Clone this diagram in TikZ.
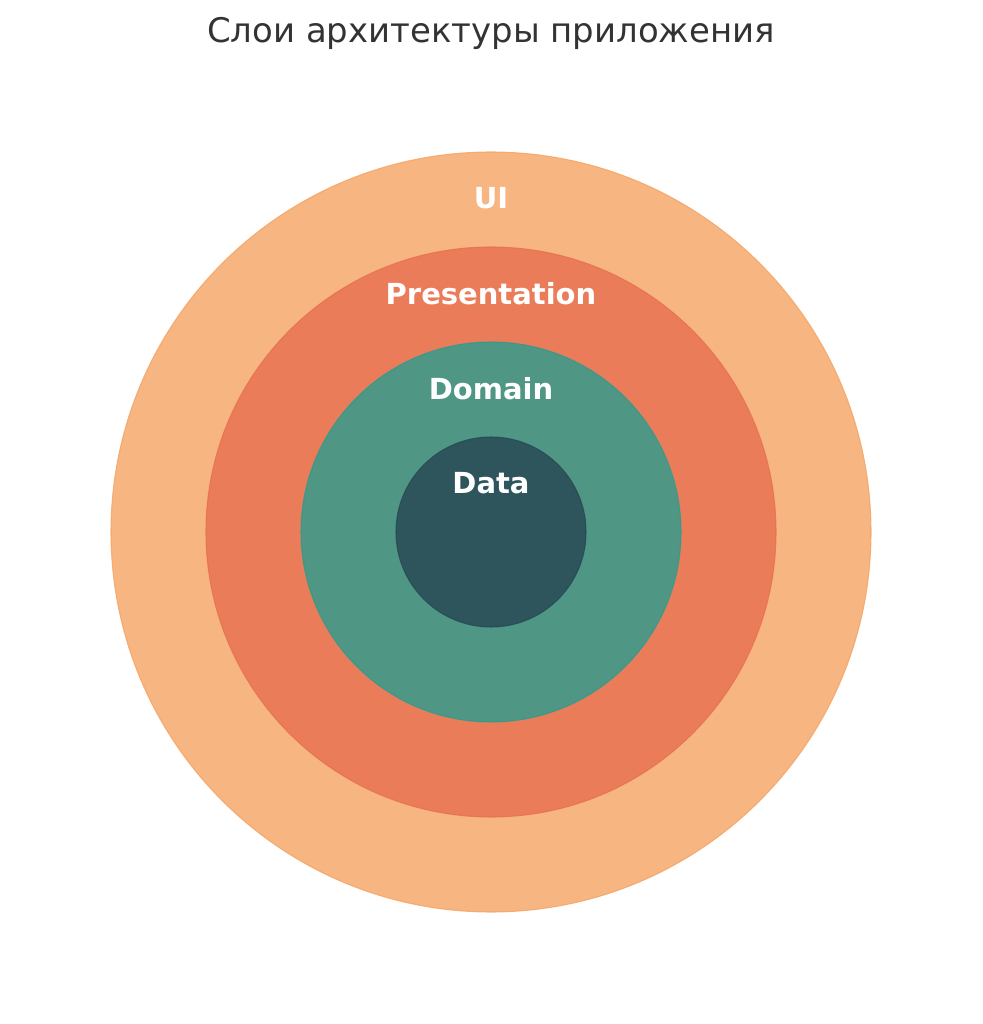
\documentclass[tikz,border=0pt]{standalone}
\usepackage{fontspec}
\setmainfont{DejaVu Sans}
\usepackage{tikz}
\usetikzlibrary{positioning}

\definecolor{uicol}{HTML}{F4A261}
\definecolor{prescol}{HTML}{E76F51}
\definecolor{domcol}{HTML}{2A9D8F}
\definecolor{datacol}{HTML}{264653}
\definecolor{titlecol}{HTML}{333333}

\tikzset{
    layer/.style={circle, inner sep=0pt, outer sep=0pt, opacity=0.8, line width=0.6pt},
    layername/.style={text=white, font=\fontsize{16.5}{18}\selectfont\bfseries, inner sep=0pt}
}

\begin{document}
\begin{tikzpicture}
    \useasboundingbox (0,0) rectangle (19.66,20.48);

    % Centre of the rings
    \coordinate (C) at (9.82,9.84);

    % Draw the layers from the outside in
    \node[layer, fill=uicol, draw=uicol, minimum size=15.2cm] (UI) at (C) {};
    \node[layer, fill=prescol, draw=prescol, minimum size=11.4cm] (Pres) at (C) {};
    \node[layer, fill=domcol, draw=domcol, minimum size=7.6cm] (Dom) at (C) {};
    \node[layer, fill=datacol, draw=datacol, minimum size=3.8cm] (Data) at (C) {};

    % Label each layer near its top
    \node[layername] (UIname) at ([yshift=-0.93cm]UI.north) {UI};
    \node[layername] (Presname) at ([yshift=-0.93cm]Pres.north) {Presentation};
    \node[layername] (Domname) at ([yshift=-0.93cm]Dom.north) {Domain};
    \node[layername] (Dataname) at ([yshift=-0.93cm]Data.north) {Data};

    % Title
    \node[text=titlecol, font=\fontsize{19.3}{22}\selectfont] (Title) at (9.82,19.82) {Слои архитектуры приложения};

\end{tikzpicture}
\end{document}
